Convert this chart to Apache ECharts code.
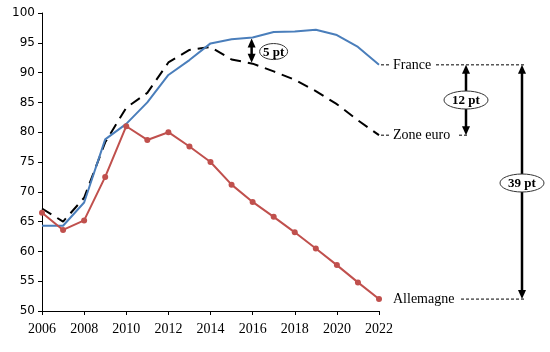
<!DOCTYPE html>
<html>
<head>
<meta charset="utf-8">
<script src="https://cdn.jsdelivr.net/npm/echarts@6/dist/echarts.min.js"></script>
<style>
    html, body { margin: 0; padding: 0; background: #fff; }
    #main { width: 550px; height: 352px; }
</style>
</head>
<body>
<div id="main"></div>
<script>
    var years = [2006, 2007, 2008, 2009, 2010, 2011, 2012, 2013, 2014, 2015, 2016, 2017, 2018, 2019, 2020, 2021, 2022];
    var france = [64.3, 64.3, 68.2, 78.8, 81.4, 85.0, 89.6, 92.1, 94.9, 95.6, 95.9, 96.8, 96.9, 97.2, 96.3, 94.3, 91.3];
    var zoneEuro = [67.2, 65.0, 69.0, 78.3, 84.1, 86.6, 91.7, 93.8, 94.3, 92.2, 91.5, 90.2, 88.8, 86.9, 84.7, 82.0, 79.5];
    var allemagne = [66.5, 63.6, 65.2, 72.5, 81.0, 78.7, 80.0, 77.6, 75.0, 71.2, 68.3, 65.8, 63.2, 60.5, 57.7, 54.8, 52.0];
    var labels = ['France', 'Zone euro', 'Allemagne'];
    var gaps = ['5 pt', '12 pt', '39 pt'];

    function pairs(vals) {
        return years.map(function (y, i) { return [y, vals[i]]; });
    }

    var serif = '"Liberation Serif", "DejaVu Serif", serif';
    var myChart = echarts.init(document.getElementById('main'));
    var option = {
        animation: false,
        grid: { left: 42, top: 13, width: 337, height: 298 },
        xAxis: {
            type: 'value', min: 2006, max: 2022, interval: 2,
            axisLine: { lineStyle: { color: '#000', width: 1 } },
            axisTick: { length: 4, lineStyle: { color: '#000' } },
            axisLabel: {
                color: '#000', fontFamily: serif, fontSize: 14, margin: 11,
                formatter: function (v) { return String(v); }
            },
            splitLine: { show: false }
        },
        yAxis: {
            type: 'value', min: 50, max: 100, interval: 5,
            axisLine: { show: true, lineStyle: { color: '#000', width: 1 } },
            axisTick: { show: true, length: 4, lineStyle: { color: '#000' } },
            axisLabel: { color: '#000', fontFamily: '"DejaVu Sans", sans-serif', fontSize: 12, margin: 7 },
            splitLine: { show: false }
        },
        series: [
            {
                name: labels[1], type: 'line', data: pairs(zoneEuro),
                symbol: 'none',
                lineStyle: { color: '#000', width: 2, type: [11, 7] },
                z: 2
            },
            {
                name: labels[0], type: 'line', data: pairs(france),
                symbol: 'none',
                lineStyle: { color: '#4a7ebb', width: 2 },
                z: 3
            },
            {
                name: labels[2], type: 'line', data: pairs(allemagne),
                symbol: 'circle', symbolSize: 6,
                itemStyle: { color: '#c0504d' },
                lineStyle: { color: '#c0504d', width: 2 },
                z: 4
            }
        ]
    };
    myChart.setOption(option);

    // annotations placed from the axis scales
    function px(x, y) { return myChart.convertToPixel({ gridIndex: 0 }, [x, y]); }
    var last = years.length - 1;
    var pF = px(years[last], france[last]);
    var pE = px(years[last], zoneEuro[last]);
    var pA = px(years[last], allemagne[last]);
    var i16 = years.indexOf(2016);
    var p16a = px(2016, france[i16]);
    var p16b = px(2016, zoneEuro[i16]);

    var g = [];
    var dash = { stroke: '#000', lineWidth: 1, lineDash: [3, 2] };
    function dline(x1, y1, x2, y2) {
        g.push({ type: 'line', shape: { x1: x1, y1: y1, x2: x2, y2: y2 }, style: dash });
    }
    function txt(x, y, s, extra) {
        var st = { text: s, x: x, y: y, fill: '#000', font: '14px ' + serif, verticalAlign: 'middle', align: 'left' };
        for (var k in extra) st[k] = extra[k];
        g.push({ type: 'text', style: st });
    }
    function arrow(x, y1, y2) {
        g.push({ type: 'line', shape: { x1: x, y1: y1 + 6, x2: x, y2: y2 - 6 }, style: { stroke: '#000', lineWidth: 2.5 } });
        g.push({ type: 'polygon', shape: { points: [[x, y1], [x - 4, y1 + 9], [x + 4, y1 + 9]] }, style: { fill: '#000' } });
        g.push({ type: 'polygon', shape: { points: [[x, y2], [x - 4, y2 - 9], [x + 4, y2 - 9]] }, style: { fill: '#000' } });
    }
    function bubble(cx, cy, rx, ry, s) {
        g.push({ type: 'ellipse', shape: { cx: cx, cy: cy, rx: rx, ry: ry }, style: { fill: '#fff', stroke: '#333', lineWidth: 1 }, z: 10 });
        txt(cx, cy + 1, s, { align: 'center', font: 'bold 13px ' + serif });
        g[g.length - 1].z = 11;
    }

    // France
    dline(pF[0] + 2, pF[1], pF[0] + 12, pF[1]);
    txt(pF[0] + 14, pF[1], labels[0]);
    dline(pF[0] + 57, pF[1], 524, pF[1]);
    // Zone euro
    dline(pE[0] + 2, pE[1], pE[0] + 12, pE[1]);
    txt(pE[0] + 14, pE[1], labels[1]);
    dline(pE[0] + 80, pE[1], pE[0] + 90, pE[1]);
    // Allemagne
    txt(pA[0] + 14, pA[1], labels[2]);
    dline(pA[0] + 82, pA[1], 524, pA[1]);

    // gap arrows
    arrow(p16a[0] - 1, p16a[1] + 1, p16b[1] - 1);
    bubble(p16a[0] + 21, (p16a[1] + p16b[1]) / 2 + 1, 14, 8, gaps[0]);
    arrow(466, pF[1], pE[1]);
    bubble(466, (pF[1] + pE[1]) / 2, 22, 9, gaps[1]);
    arrow(522, pF[1], pA[1]);
    bubble(522, 183, 22, 9, gaps[2]);

    myChart.setOption({ graphic: g });
</script>
</body>
</html>
